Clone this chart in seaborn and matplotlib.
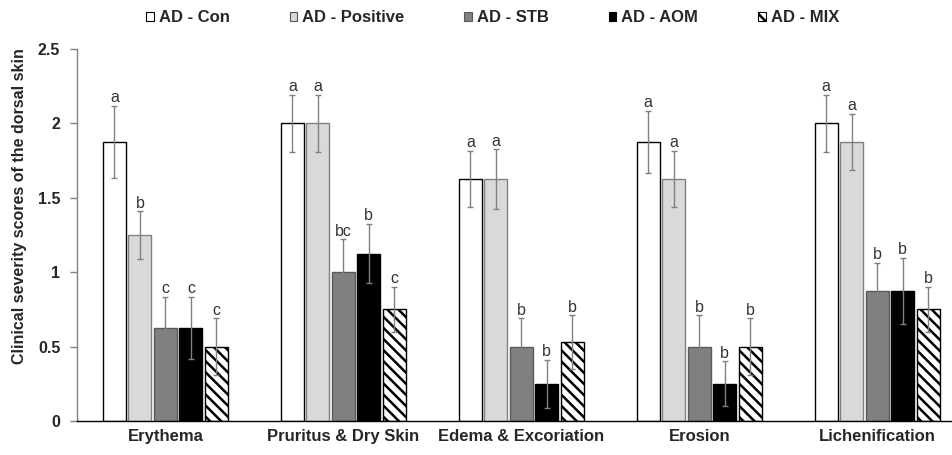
import numpy as np
import pandas as pd
import matplotlib
matplotlib.use("Agg")
import matplotlib.pyplot as plt
import seaborn as sns
from matplotlib.patches import Patch

categories = ["Erythema", "Pruritus & Dry Skin", "Edema & Excoriation", "Erosion", "Lichenification"]
groups = ["AD - Con", "AD - Positive", "AD - STB", "AD - AOM", "AD - MIX"]

con_mean = [1.875, 2.0, 1.625, 1.875, 2.0]
pos_mean = [1.25, 2.0, 1.625, 1.625, 1.875]
stb_mean = [0.625, 1.0, 0.5, 0.5, 0.875]
aom_mean = [0.625, 1.125, 0.25, 0.25, 0.875]
mix_mean = [0.5, 0.75, 0.53, 0.5, 0.75]

con_err = [0.245, 0.19, 0.19, 0.21, 0.19]
pos_err = [0.16, 0.19, 0.20, 0.19, 0.19]
stb_err = [0.21, 0.22, 0.19, 0.21, 0.19]
aom_err = [0.21, 0.20, 0.16, 0.15, 0.22]
mix_err = [0.19, 0.15, 0.18, 0.19, 0.15]

con_sig = ["a", "a", "a", "a", "a"]
pos_sig = ["b", "a", "a", "a", "a"]
stb_sig = ["c", "bc", "b", "b", "b"]
aom_sig = ["c", "b", "b", "b", "b"]
mix_sig = ["c", "c", "b", "b", "b"]

yticks = [0, 0.5, 1, 1.5, 2, 2.5]
ytick_labels = ["0", "0.5", "1", "1.5", "2", "2.5"]
ylabel = "Clinical severity scores of the dorsal skin"

means = [con_mean, pos_mean, stb_mean, aom_mean, mix_mean]
errs = [con_err, pos_err, stb_err, aom_err, mix_err]
sigs = [con_sig, pos_sig, stb_sig, aom_sig, mix_sig]

rows = []
for g, m, e, s in zip(groups, means, errs, sigs):
    for c, mv, ev, sv in zip(categories, m, e, s):
        rows.append({"category": c, "group": g, "mean": mv, "err": ev, "sig": sv})
df = pd.DataFrame(rows)

sns.set_theme(style="white")
plt.rcParams["font.family"] = ["Liberation Sans", "DejaVu Sans"]
plt.rcParams["hatch.linewidth"] = 1.8
plt.rcParams["hatch.color"] = "black"

fills = ["#ffffff", "#d9d9d9", "#808080", "#000000", "#ffffff"]
edges = ["#000000", "#808080", "#595959", "#000000", "#000000"]
hatches = ["", "", "", "", "\\\\\\"]

fig = plt.figure(figsize=(9.53, 4.55), dpi=100)
ax = fig.add_axes([0.0808, 0.0747, 0.918, 0.8176])

sns.barplot(data=df, x="category", y="mean", hue="group", order=categories,
            hue_order=groups, palette=fills, width=0.716, gap=0.1,
            errorbar=None, legend=False, ax=ax, saturation=1)

bar_containers = list(ax.containers)
for gi, cont in enumerate(bar_containers):
    sub = df[df["group"] == groups[gi]].set_index("category").loc[categories]
    for bar, (_, r) in zip(cont.patches, sub.iterrows()):
        bar.set_facecolor(fills[gi])
        bar.set_edgecolor(edges[gi])
        bar.set_linewidth(1.0)
        bar.set_hatch(hatches[gi])
        xc = bar.get_x() + bar.get_width() / 2
        ax.errorbar(xc, r["mean"], yerr=r["err"], fmt="none", ecolor="#808080",
                    elinewidth=1.0, capsize=2.5, capthick=1.0, zorder=5)
        ax.annotate(r["sig"], (xc, r["mean"] + r["err"]), xytext=(0, 0.5),
                    textcoords="offset points", ha="center", va="bottom",
                    fontsize=11.5, color="#333333")

ax.set_xlim(-0.497, 4.42)
ax.set_ylim(0, 2.5)
ax.set_yticks(yticks)
ax.set_yticklabels(ytick_labels, fontsize=11.5, fontweight="bold")
ax.set_xticks(range(len(categories)))
ax.set_xticklabels(categories, fontsize=12, fontweight="bold")
ax.tick_params(axis="x", length=0, pad=6)
ax.tick_params(axis="y", direction="out", length=5, width=1, color="#808080", left=True, pad=7)
ax.set_xlabel("")
ax.set_ylabel(ylabel, fontsize=11.5, fontweight="bold")
ax.yaxis.set_label_coords(-0.057, 0.578)
sns.despine(ax=ax, top=True, right=True)
ax.spines["left"].set_color("#808080")
ax.spines["bottom"].set_color("#000000")
ax.spines["left"].set_linewidth(1)
ax.spines["bottom"].set_linewidth(1)

handles = [Patch(facecolor=fills[i], edgecolor=edges[i] if i != 1 else "#555555",
                 hatch=hatches[i], linewidth=0.8) for i in range(5)]
fig.legend(handles, groups, loc="upper center", bbox_to_anchor=(0.517, 1.01), ncol=5,
           frameon=False, prop={"weight": "bold", "size": 12}, handlelength=0.45,
           handleheight=0.45, handletextpad=0.3, columnspacing=3.6)

fig.savefig("out.png", dpi=100)
